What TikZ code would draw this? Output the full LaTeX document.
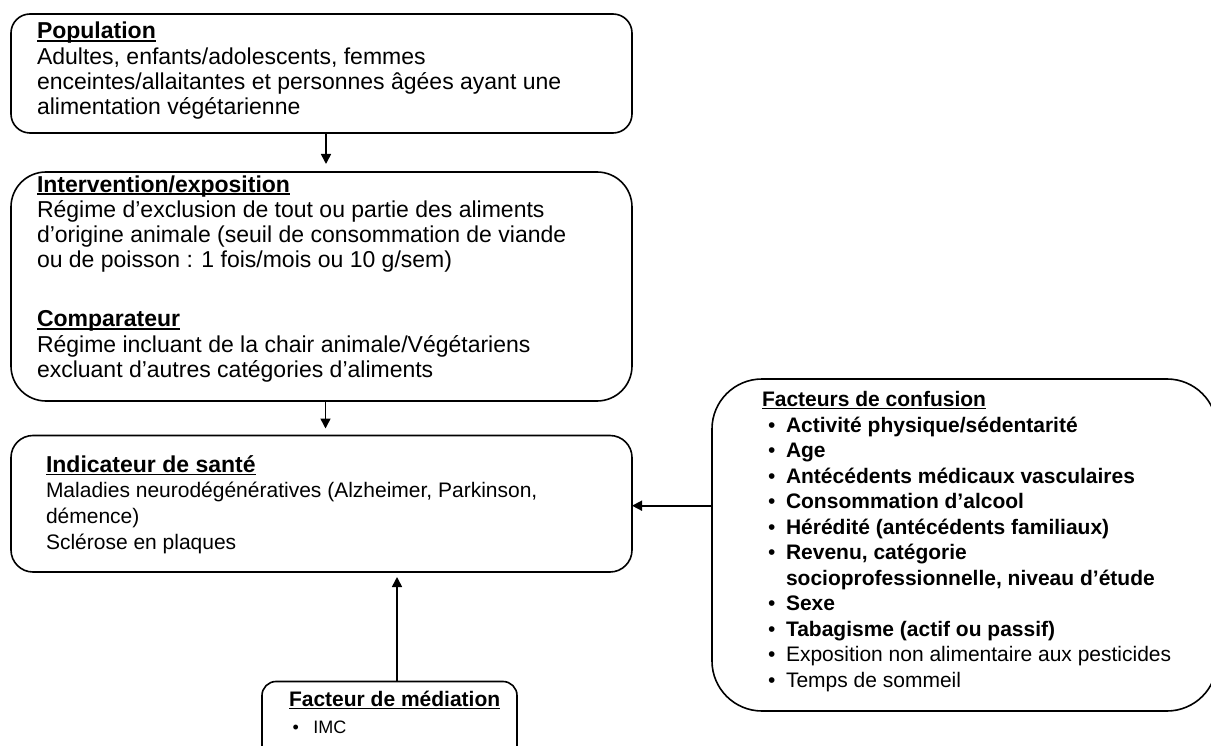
\documentclass[tikz,border=0pt]{standalone}
\usepackage{fontspec}
\setmainfont{Liberation Sans}
\usetikzlibrary{arrows.meta,calc}

% underline drawn as a rule just below the baseline
\newsavebox\ulbox
\newcommand{\undl}[1]{\sbox\ulbox{#1}\rlap{\rule[-2.6pt]{\wd\ulbox}{1.3pt}}\usebox\ulbox}
% invisible strut fixing the first baseline 22pt below a text node's top
\newcommand{\topstrut}{\rule{0pt}{22pt}}
% bullet followed by a fixed indent
\newcommand{\bul}[1]{\makebox[#1][l]{\mdseries\textbullet}}

\tikzset{
  box/.style={draw, line width=1.6pt, anchor=north west, inner sep=0pt, outer sep=0pt},
  txt/.style={anchor=north west, inner sep=0pt, outer sep=0pt, align=left},
  arr/.style={line width=1.6pt, -{Triangle[length=10pt,width=10pt]}},
}

\begin{document}
\begin{tikzpicture}[x=1pt, y=-1pt]
  \useasboundingbox (0,0) rectangle (1211,746);
  \clip (0,0) rectangle (1211,746);

  % frames
  \node[box, rounded corners=19pt, minimum width=621pt, minimum height=119pt] (pop) at (11,14) {};
  \node[box, rounded corners=35pt, minimum width=621pt, minimum height=229pt] (int) at (11,172) {};
  \node[box, rounded corners=22pt, minimum width=621pt, minimum height=136.5pt] (ind) at (11,435.5) {};
  \node[box, rounded corners=50pt, minimum width=505pt, minimum height=332pt] (conf) at (712,379) {};
  \node[box, rounded corners=14pt, minimum width=255pt, minimum height=80pt] (med) at (262,681.5) {};

  % texts
  \node[txt, font={\fontsize{23}{25.3}\selectfont}] (poptxt) at (37,17) {%
    \topstrut\undl{\textbf{Population}}\\
    Adultes, enfants/adolescents, femmes\\
    enceintes/allaitantes et personnes âgées ayant une\\
    alimentation végétarienne};

  \node[txt, font={\fontsize{23}{25.3}\selectfont}] (inttxt) at (37,170) {%
    \topstrut\undl{\textbf{Intervention/exposition}}\\
    Régime d’exclusion de tout ou partie des aliments\\
    d’origine animale (seuil de consommation de viande\\
    ou de poisson : 1 fois/mois ou 10 g/sem)\\[33.7pt]
    \undl{\textbf{Comparateur}}\\
    Régime incluant de la chair animale/Végétariens\\
    excluant d’autres catégories d’aliments};

  \node[txt, font={\fontsize{21}{26}\selectfont}] (indtxt) at (46,450.7) {%
    \topstrut{\fontsize{23}{26}\selectfont\undl{\textbf{Indicateur de santé}}}\\[-1.7pt]
    Maladies neurodégénératives (Alzheimer, Parkinson,\\
    démence)\\
    Sclérose en plaques};

  \node[txt, font={\fontsize{21}{25.5}\selectfont}] (conftxt) at (762,384.5) {%
    \topstrut\undl{\textbf{Facteurs de confusion}}\\
    \hspace*{6pt}\bul{18pt}\textbf{Activité physique/sédentarité}\\
    \hspace*{6pt}\bul{18pt}\textbf{Age}\\
    \hspace*{6pt}\bul{18pt}\textbf{Antécédents médicaux vasculaires}\\
    \hspace*{6pt}\bul{18pt}\textbf{Consommation d’alcool}\\
    \hspace*{6pt}\bul{18pt}\textbf{Hérédité (antécédents familiaux)}\\
    \hspace*{6pt}\bul{18pt}\textbf{Revenu, catégorie}\\
    \hspace*{24pt}\textbf{socioprofessionnelle, niveau d’étude}\\
    \hspace*{6pt}\bul{18pt}\textbf{Sexe}\\
    \hspace*{6pt}\bul{18pt}\textbf{Tabagisme (actif ou passif)}\\
    \hspace*{6pt}\bul{18pt}Exposition non alimentaire aux pesticides\\
    \hspace*{6pt}\bul{18pt}Temps de sommeil};

  \node[txt, font={\fontsize{21}{26.3}\selectfont}] (medtxt) at (289,684.7) {%
    \topstrut\undl{\textbf{Facteur de médiation}}\\
    \hspace*{3.7pt}{\fontsize{18}{26.3}\selectfont\bul{20.6pt}IMC}};

  % connectors
  \draw[arr, shorten >=8pt] ([xshift=4.5pt]pop.south) -- ([xshift=4.5pt]int.north);
  \draw[arr, shorten >=7pt] ([xshift=4pt]int.south) -- ([xshift=4pt]ind.north);
  \draw[arr, shorten >=5pt] ([xshift=7.5pt]med.north) -- ([xshift=7.5pt]med.north |- ind.south);
  \draw[arr] ([yshift=39.3pt]conf.west) -- ([yshift=39.3pt]conf.west -| ind.east);
\end{tikzpicture}
\end{document}
